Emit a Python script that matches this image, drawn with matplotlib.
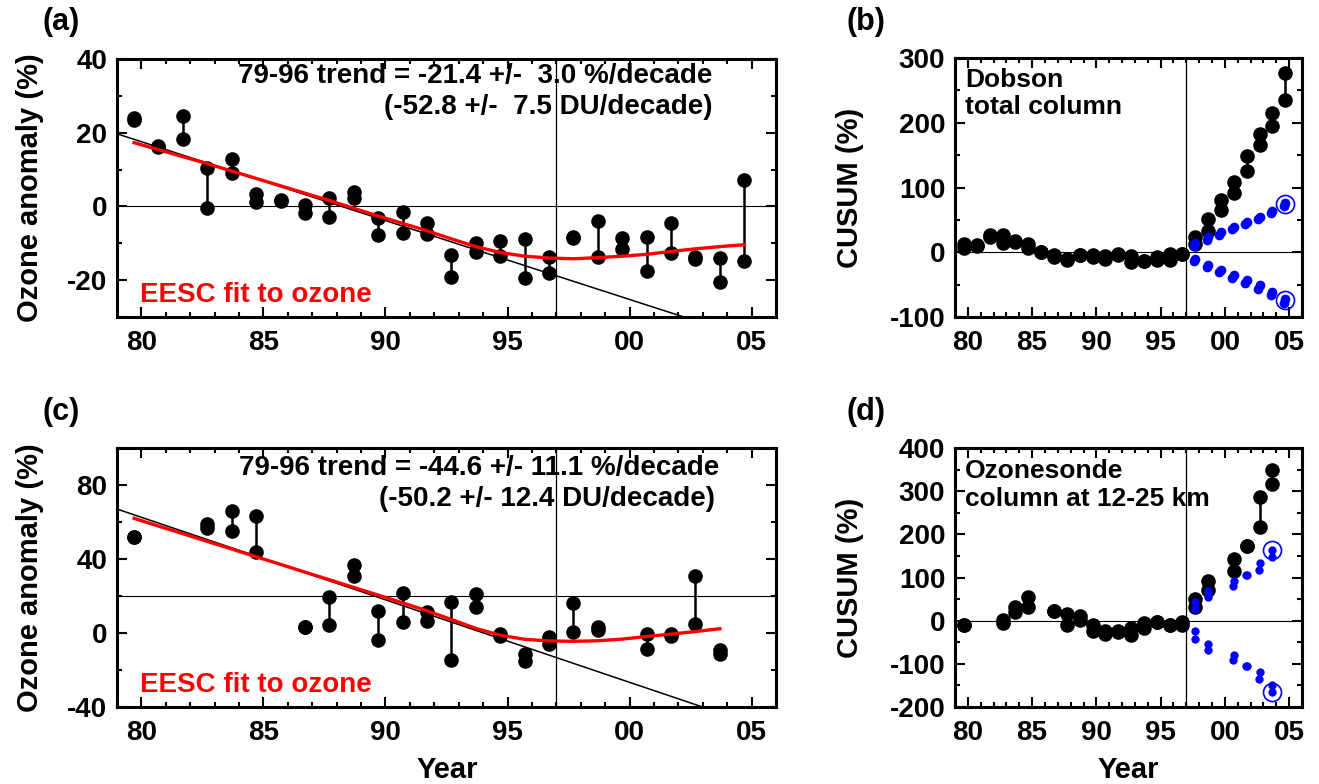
import matplotlib.pyplot as plt
from matplotlib.ticker import MultipleLocator, FuncFormatter
from matplotlib import font_manager

# ---- values ----
# (a) Dobson total ozone anomaly (%), two estimates per year
yrs_a = [1979.7, 1980.7, 1981.7, 1982.7, 1983.7, 1984.7, 1985.7, 1986.7, 1987.7,
         1988.7, 1989.7, 1990.7, 1991.7, 1992.7, 1993.7, 1994.7, 1995.7, 1996.7,
         1997.7, 1998.7, 1999.7, 2000.7, 2001.7, 2002.7, 2003.7, 2004.7]
dob_1 = [24, 16.5, 24.6, 10.5, 13, 3.5, 1.8, 0.3, 2.2, 3.8, -3.2, -1.6, -4.5,
         -13.2, -10, -9.5, -8.9, -13.8, -8.2, -4, -8.6, -8.4, -4.6, -13.8, -14, 7.3]
dob_2 = [23.5, 16, 18.4, -0.5, 9.2, 1.1, 1.4, -1.9, -2.9, 2.4, -7.8, -7.3, -7.6,
         -19.2, -12.4, -13.5, -19.5, -18, -8.6, -13.8, -11.6, -17.6, -12.7, -14.2, -20.5, -14.9]
eesc_a = [17.3, 15.4, 13.5, 11.6, 9.6, 7.6, 5.6, 3.6, 1.6, -0.5, -2.6, -4.6, -6.6,
          -8.8, -10.9, -12.5, -13.5, -14.0, -14.2, -13.9, -13.5, -13.0, -12.2, -11.5, -10.9, -10.4]
trend_a = (19.7, -21.4)   # value at 1979, slope in %/decade

# (b) CUSUM of Dobson residuals (%)
cus_b1 = [7, 11, 26, 26, 17, 12, 1, -5, -12, -5, -5, -6, -3, -6, -14, -8, -3, -2,
          24, 52, 80, 108, 149, 183, 215, 277]
cus_b2 = [12, 10, 23, 14, 16, 6, 0, -7, -11, -4, -8, -10, -4, -15, -13, -12, -12, -3,
          12, 33, 65, 91, 125, 165, 195, 235]
env_yrs_b = [1997.7, 1998.7, 1999.7, 2000.7, 2001.7, 2002.7, 2003.7, 2004.7]
env_b_up1 = [14, 23, 31, 39, 46, 55, 64, 76]
env_b_up2 = [10, 19, 27, 36, 43, 52, 61, 72]
env_b_lo1 = [-10, -19, -27, -35, -43, -51, -61, -72]
env_b_lo2 = [-14, -23, -31, -39, -47, -56, -66, -79]

# (c) ozonesonde 12-25 km column anomaly (%)
yrs_c = [1979.7, 1982.7, 1983.7, 1984.7, 1986.7, 1987.7, 1988.7, 1989.7, 1990.7,
         1991.7, 1992.7, 1993.7, 1994.7, 1995.7, 1996.7, 1997.7, 1998.7, 2000.7,
         2001.7, 2002.7, 2003.7]
son_1 = [52, 59, 66, 63.5, 3.2, 19.3, 37, 11.8, 21.5, 11.3, 16.6, 21, -0.5, -11.3,
         -2.1, 16, 3.2, -0.5, -0.5, 31, -9]
son_2 = [52, 57, 55, 44, 3.2, 4.3, 31, -3.8, 5.9, 6.6, -14.5, 14, -1.5, -15, -5.9,
         0.5, 1.6, -8.6, -1.5, 4.8, -11.3]
yrs_eesc_c = yrs_a[:25]
eesc_c = [62, 57.8, 53.7, 49.5, 45.4, 41.2, 37.1, 32.9, 28.8, 24.6, 20.5, 16.3, 12.0,
          7.3, 2.5, -1.2, -3.4, -4.3, -4.5, -4.2, -3.3, -1.9, -0.6, 0.8, 2.3]
trend_c = (67.0, -44.6)

# (d) CUSUM of ozonesonde residuals (%)
cus_d1 = [-11, 2, 32, 55, 23, 16, 11, -11, -23, -25, -16, -5, -3, -11, -2, 50, 91,
          143, 173, 286, 350]
cus_d2 = [-11, -5, 20, 32, 23, -9, 2, -23, -30, -27, -34, -18, -3, -11, -9, 32, 70,
          114, 173, 216, 316]
env_yrs_d = [1997.7, 1998.7, 2000.7, 2001.7, 2002.7, 2003.7]
env_d_up1 = [43, 68, 93, 105, 134, 164]
env_d_up2 = [28, 55, 80, 105, 118, 148]
env_d_lo1 = [-25, -55, -80, -105, -118, -148]
env_d_lo2 = [-43, -68, -91, -105, -134, -166]

# ---- fonts ----
try:
    font_manager.findfont('Liberation Sans Narrow', fallback_to_default=False)
    narrow = 'Liberation Sans Narrow'
except ValueError:
    narrow = 'Liberation Sans'

plt.rcParams['font.family'] = ['Liberation Sans', 'DejaVu Sans']
plt.rcParams['font.weight'] = 'bold'
plt.rcParams['axes.unicode_minus'] = False

W, H = 1319, 784
fig = plt.figure(figsize=(W / 100, H / 100), dpi=100)


def box(l, t, r, b):
    return [l / W, 1 - b / H, (r - l) / W, (b - t) / H]


def px(x, y):
    return x / W, 1 - y / H


ax_a = fig.add_axes(box(117, 59, 776, 317))
ax_b = fig.add_axes(box(955, 58, 1302, 317))
ax_c = fig.add_axes(box(117, 448, 776, 707))
ax_d = fig.add_axes(box(955, 448, 1302, 707))


def style(ax, ylim, major, minor, xfont):
    ax.set_xlim(1979, 2006)
    ax.set_ylim(*ylim)
    ax.xaxis.set_major_locator(MultipleLocator(5))
    ax.xaxis.set_minor_locator(MultipleLocator(1))
    ax.yaxis.set_major_locator(MultipleLocator(major))
    ax.yaxis.set_minor_locator(MultipleLocator(minor))
    ax.xaxis.set_major_formatter(FuncFormatter(lambda v, p: '%02d' % (int(round(v)) % 100)))
    ax.tick_params(which='both', direction='in', top=True, right=True, width=1.5)
    ax.tick_params(which='major', length=7, labelsize=20)
    ax.tick_params(which='minor', length=3.5)
    ax.tick_params(axis='x', pad=9)
    ax.tick_params(axis='y', pad=7)
    for lab in ax.get_xticklabels():
        lab.set_family(xfont)
        lab.set_fontweight('bold')
    for s in ax.spines.values():
        s.set_linewidth(2.2)
    ax.axvline(1997, color='k', lw=0.9, zorder=1)


def pairs(ax, yrs, v1, v2, color='k', ms=10.5, lw=1.8, dx=0.0):
    x2 = [x - dx for x in yrs]
    ax.plot([yrs, x2], [v1, v2], color=color, lw=lw, zorder=3)
    ax.plot(yrs, v1, 'o', color=color, ms=ms, mew=0, zorder=4)
    ax.plot(x2, v2, 'o', color=color, ms=ms, mew=0, zorder=4)


def trend(ax, t):
    xs = [1979, 2006]
    ax.plot(xs, [t[0] + t[1] / 10 * (x - 1979) for x in xs], color='k', lw=1.1, zorder=2)


# (a)
style(ax_a, (-30, 40), 20, 10, narrow)
ax_a.axhline(0, color='k', lw=0.8, zorder=1)
trend(ax_a, trend_a)
ax_a.plot(yrs_a, eesc_a, color='red', lw=2.4, zorder=5)
pairs(ax_a, yrs_a, dob_1, dob_2)

# (b)
style(ax_b, (-100, 300), 100, 50, 'Liberation Sans')
ax_b.axhline(0, color='k', lw=0.8, zorder=1)
pairs(ax_b, yrs_a, cus_b1, cus_b2)
for e1, e2 in [(env_b_up1, env_b_up2), (env_b_lo1, env_b_lo2)]:
    pairs(ax_b, env_yrs_b, e1, e2, color='blue', ms=7, lw=0, dx=0.12)
    ax_b.plot(env_yrs_b[-1], e1[-1] - 2, 'o', ms=13, mfc='none', mec='blue', mew=1.2, zorder=5)

# (c)
style(ax_c, (-40, 100), 40, 20, narrow)
ax_c.axhline(20, color='k', lw=0.8, zorder=1)
trend(ax_c, trend_c)
ax_c.plot(yrs_eesc_c, eesc_c, color='red', lw=2.4, zorder=5)
pairs(ax_c, yrs_c, son_1, son_2)

# (d)
style(ax_d, (-200, 400), 100, 50, 'Liberation Sans')
ax_d.axhline(0, color='k', lw=0.8, zorder=1)
pairs(ax_d, yrs_c, cus_d1, cus_d2)
for e1, e2, last in [(env_d_up1, env_d_up2, env_d_up1[-1]), (env_d_lo1, env_d_lo2, env_d_lo2[-1])]:
    pairs(ax_d, env_yrs_d, e1, e2, color='blue', ms=6, lw=0, dx=0.05)
    ax_d.plot(env_yrs_d[-1], last, 'o', ms=13, mfc='none', mec='blue', mew=1.2, zorder=5)

# ---- text ----
fs = 20
fig.text(*px(61, 22), '(a)', fontsize=22, ha='center', va='center')
fig.text(*px(866, 22), '(b)', fontsize=22, ha='center', va='center')
fig.text(*px(61, 412), '(c)', fontsize=22, ha='center', va='center')
fig.text(*px(866, 412), '(d)', fontsize=22, ha='center', va='center')

fig.text(*px(475, 76), '79-96 trend = -21.4 +/-  3.0 %/decade', fontsize=fs, ha='center', va='center')
fig.text(*px(548, 107), '(-52.8 +/-  7.5 DU/decade)', fontsize=fs, ha='center', va='center')
fig.text(*px(479, 468), '79-96 trend = -44.6 +/- 11.1 %/decade', fontsize=fs, ha='center', va='center')
fig.text(*px(547, 499), '(-50.2 +/- 12.4 DU/decade)', fontsize=fs, ha='center', va='center')

fig.text(*px(140, 295), 'EESC fit to ozone', fontsize=fs, color='red', ha='left', va='center')
fig.text(*px(140, 685), 'EESC fit to ozone', fontsize=fs, color='red', ha='left', va='center')

fig.text(*px(965, 80), 'Dobson', fontsize=19, ha='left', va='center')
fig.text(*px(965, 107), 'total column', fontsize=19, ha='left', va='center')
fig.text(*px(965, 471), 'Ozonesonde', fontsize=19, ha='left', va='center')
fig.text(*px(965, 499), 'column at 12-25 km', fontsize=19, ha='left', va='center')

fig.text(*px(30, 188), 'Ozone anomaly (%)', fontsize=21, rotation=90, ha='center', va='center')
fig.text(*px(30, 578), 'Ozone anomaly (%)', fontsize=21, rotation=90, ha='center', va='center')
fig.text(*px(850, 188), 'CUSUM (%)', fontsize=21, rotation=90, ha='center', va='center')
fig.text(*px(850, 578), 'CUSUM (%)', fontsize=21, rotation=90, ha='center', va='center')

fig.text(*px(447, 770), 'Year', fontsize=21, ha='center', va='center')
fig.text(*px(1128, 770), 'Year', fontsize=21, ha='center', va='center')

fig.savefig('out.png', dpi=100)
